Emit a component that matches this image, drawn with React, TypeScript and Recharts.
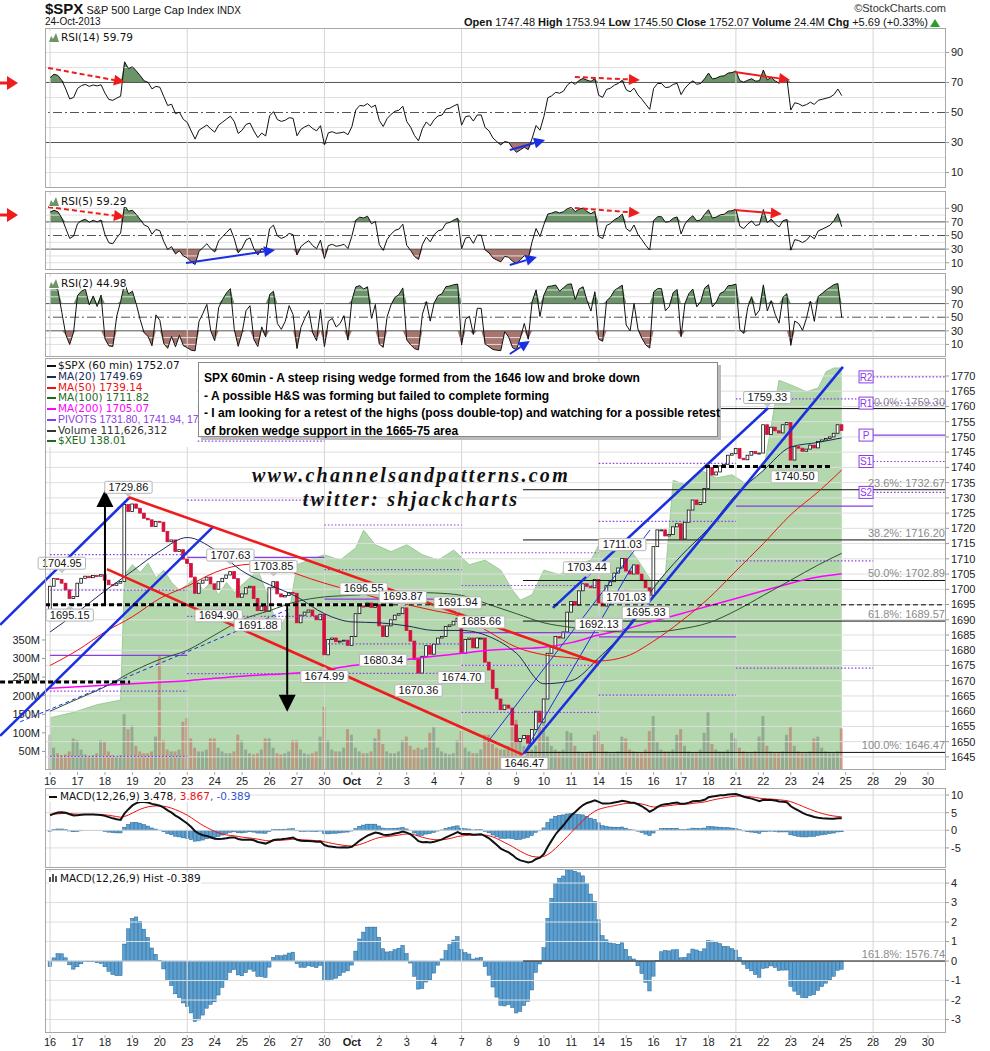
import React from "react";
import { ComposedChart, Line, Bar, Area, XAxis, YAxis, ReferenceLine, ReferenceDot } from "recharts";

const FONT = "Arial, 'Liberation Sans', sans-serif";
const VERD = "'DejaVu Sans', Verdana, sans-serif";
const NARROW = "'Liberation Sans Narrow', 'Arial Narrow', Arial, sans-serif";
const W = 990;

// ---- x axis (hourly bars, 7 per session) ----
const dayLabels = ["16", "17", "18", "19", "20", "23", "24", "25", "26", "27", "30", "Oct", "2", "3", "4", "7", "8", "9", "10", "11", "14", "15", "16", "17", "18", "21", "22", "23", "24", "25", "28", "29", "30"];
const BARS = 7;
const X_MIN = -1.3;
const X_MAX = 228.6;
const weekStarts = [0, 35, 70, 105, 140, 175, 210];

// ---- $SPX 60 min closes, one row per session ----
const open0 = 1692.0;
const closesByDay = [
  [1701.0, 1703.5, 1703.2, 1702.0, 1699.8, 1697.0, 1697.6],
  [1702.0, 1703.6, 1704.3, 1703.8, 1704.5, 1704.3, 1704.8],
  [1703.0, 1701.5, 1701.3, 1702.0, 1702.6, 1727.8, 1725.5],
  [1728.0, 1726.6, 1725.0, 1723.3, 1722.8, 1720.6, 1722.3],
  [1722.0, 1719.0, 1715.6, 1716.2, 1712.4, 1713.0, 1709.9],
  [1708.5, 1704.0, 1698.7, 1702.0, 1703.0, 1704.0, 1701.8],
  [1700.0, 1702.5, 1703.6, 1704.7, 1705.8, 1703.5, 1697.4],
  [1698.5, 1700.5, 1701.0, 1697.0, 1693.0, 1694.5, 1692.8],
  [1700.5, 1702.5, 1698.5, 1697.5, 1698.0, 1699.0, 1698.7],
  [1689.0, 1691.5, 1692.5, 1693.2, 1691.3, 1690.0, 1691.8],
  [1678.5, 1683.5, 1684.0, 1682.8, 1683.0, 1683.3, 1681.6],
  [1684.5, 1692.0, 1694.5, 1694.3, 1695.5, 1694.0, 1695.0],
  [1688.0, 1684.5, 1688.0, 1690.0, 1691.5, 1692.0, 1693.9],
  [1686.5, 1683.0, 1677.0, 1672.5, 1678.0, 1681.5, 1678.7],
  [1682.0, 1684.0, 1684.5, 1687.8, 1688.3, 1689.5, 1690.5],
  [1679.0, 1683.5, 1684.0, 1680.8, 1684.0, 1684.0, 1676.1],
  [1673.5, 1667.5, 1664.0, 1660.5, 1662.0, 1661.0, 1655.5],
  [1650.0, 1651.0, 1652.0, 1649.5, 1654.0, 1660.0, 1656.4],
  [1664.0, 1679.0, 1681.0, 1684.5, 1684.0, 1686.0, 1692.5],
  [1696.0, 1694.8, 1699.5, 1701.8, 1701.0, 1700.5, 1703.2],
  [1695.5, 1694.5, 1701.2, 1702.5, 1705.3, 1707.0, 1710.1],
  [1706.0, 1705.0, 1708.0, 1705.0, 1703.0, 1700.5, 1698.0],
  [1714.0, 1719.5, 1719.5, 1717.5, 1718.0, 1720.5, 1721.5],
  [1716.5, 1722.0, 1726.0, 1729.3, 1727.8, 1728.5, 1733.1],
  [1740.0, 1737.5, 1738.5, 1740.5, 1741.0, 1744.0, 1744.5],
  [1746.2, 1743.0, 1742.5, 1744.0, 1745.2, 1744.5, 1744.7],
  [1754.0, 1750.8, 1753.2, 1752.0, 1751.3, 1754.0, 1754.7],
  [1742.4, 1746.8, 1746.3, 1745.3, 1746.0, 1747.3, 1746.4],
  [1748.5, 1749.0, 1749.5, 1750.0, 1751.2, 1754.0, 1752.1],
];

// volume, millions of shares per bar
const volumeByDay = [
  [95, 60, 45, 40, 42, 50, 85],
  [80, 55, 42, 38, 40, 45, 80],
  [75, 50, 40, 35, 40, 150, 110],
  [120, 65, 50, 45, 45, 50, 90],
  [310, 80, 55, 50, 50, 55, 130],
  [140, 85, 60, 50, 50, 55, 85],
  [85, 60, 50, 45, 45, 50, 95],
  [80, 55, 45, 42, 45, 55, 85],
  [85, 60, 45, 42, 45, 50, 80],
  [80, 55, 45, 42, 45, 50, 90],
  [170, 80, 55, 50, 50, 60, 110],
  [95, 60, 50, 45, 45, 50, 85],
  [110, 70, 50, 45, 45, 50, 80],
  [90, 65, 55, 60, 55, 60, 100],
  [115, 60, 50, 45, 42, 45, 80],
  [105, 60, 50, 45, 45, 55, 95],
  [95, 70, 60, 55, 55, 65, 125],
  [135, 80, 65, 60, 55, 65, 120],
  [165, 90, 65, 55, 50, 55, 105],
  [100, 65, 50, 45, 45, 50, 95],
  [105, 70, 50, 45, 45, 50, 90],
  [85, 55, 50, 45, 45, 55, 105],
  [145, 75, 55, 50, 50, 55, 95],
  [110, 65, 50, 45, 45, 55, 100],
  [155, 70, 55, 50, 50, 55, 100],
  [85, 60, 50, 45, 45, 50, 90],
  [145, 65, 50, 45, 45, 50, 95],
  [115, 65, 50, 45, 45, 50, 85],
  [90, 60, 50, 45, 45, 50, 112],
];

// moving averages read at each session start (last value = latest)
const ma20Daily = [1686, 1692.5, 1699.5, 1706, 1712.5, 1717, 1713, 1706, 1701.5, 1697.5, 1692, 1689.3, 1689, 1688, 1686.5, 1686.5, 1684.5, 1679, 1669, 1670, 1677.5, 1687, 1700.5, 1711, 1720, 1731, 1739, 1746.7, 1748.2, 1749.69];
const ma50Daily = [1675, 1680, 1686, 1691, 1697, 1701, 1705.5, 1708, 1708.5, 1705, 1702, 1699.5, 1697, 1695, 1693, 1691, 1686, 1681, 1678.5, 1677.5, 1676.5, 1678, 1683, 1689.5, 1697, 1706, 1715, 1724.5, 1732, 1739.14];
const ma100Daily = [1660, 1664, 1668, 1673, 1677, 1680, 1685, 1690, 1693, 1696, 1697.5, 1698, 1698.5, 1699, 1698.8, 1698, 1695, 1692, 1689, 1687.5, 1686.5, 1686, 1686, 1687, 1689, 1693, 1698, 1703, 1708, 1711.82];
const ma200Daily = [1667.5, 1668, 1668.5, 1669, 1669.5, 1670, 1670.8, 1671.5, 1672, 1672.5, 1673.5, 1675, 1676, 1677, 1678, 1679, 1680, 1680.5, 1681, 1682.5, 1685, 1687, 1689.5, 1692, 1694.5, 1697, 1699.5, 1702, 1704, 1705.07];

// $XEU overlay (bar index, value)
const xeuIdx = [0, 6, 12, 18, 19, 21, 23, 25, 27, 29, 31, 33, 35, 37, 39, 41, 43, 45, 47, 49, 51, 53, 55, 57, 59, 61, 63, 66, 70, 74, 78, 80, 83, 87, 91, 95, 99, 103, 107, 111, 115, 118, 120, 123, 126, 130, 134, 138, 140, 143, 147, 150, 154, 157, 159, 162, 166, 170, 174, 178, 182, 186, 189, 193, 196, 198, 200, 202];
const xeuVal = [133.46, 133.53, 133.63, 133.69, 135.32, 135.45, 135.35, 135.47, 135.28, 135.38, 135.22, 135.12, 135.19, 135.28, 135.12, 135.22, 135.06, 135.22, 135.09, 135.19, 135.28, 135.38, 135.12, 134.8, 134.67, 134.83, 135.45, 135.51, 135.58, 135.51, 135.67, 135.9, 135.71, 135.62, 135.71, 135.58, 135.51, 135.64, 135.45, 135.51, 135.38, 135.12, 134.99, 135.06, 135.38, 135.32, 135.45, 135.51, 135.71, 135.77, 135.71, 135.51, 135.19, 135.32, 136.55, 136.49, 136.68, 136.58, 136.62, 136.49, 136.66, 137.85, 137.79, 137.7, 137.75, 137.96, 138.01, 138.01];

// weekly pivots
const pivotWeekStart = [0, 35, 70, 105, 140, 175];
const pivotWeekEnd = [35, 70, 105, 140, 175, 210];
const pivotP = [1678.3, 1710.49, 1696.77, 1685.8, 1684.37, 1727.31];
const pivotR1 = [1699.7, 1729.28, 1706.43, 1701.24, 1722.27, 1762.49];
const pivotS1 = [1666.6, 1691.12, 1682.1, 1675.05, 1665.3, 1709.31];
const pivotR2 = [1711.4, 1748.65, 1721.1, 1711.99, 1741.34, 1780.49];
const pivotS2 = [1645.2, 1672.33, 1672.44, 1659.61, 1627.4, 1674.13];
const nextPivotNames = ["R2", "R1", "P", "S1", "S2"];
const nextPivotVals = [1769.7, 1761.1, 1750.6, 1741.94, 1731.8];

// fibonacci retracement 1646.47 -> 1759.30
const fibNames = ["0.0%: 1759.30", "23.6%: 1732.67", "38.2%: 1716.20", "50.0%: 1702.89", "61.8%: 1689.57", "100.0%: 1646.47"];
const fibVals = [1759.3, 1732.67, 1716.2, 1702.89, 1689.57, 1646.47];
const FIB_START = 120.66;

// price call-outs: bar, price, below
const tagBars = [20, 3, 5, 46, 43, 53, 57, 80, 90, 104, 110, 85, 70, 94, 105, 121, 140, 137, 146, 147, 152, 183, 190];
const tagPrices = [1729.86, 1704.95, 1695.15, 1707.63, 1694.9, 1691.88, 1703.85, 1696.55, 1693.87, 1691.94, 1685.66, 1680.34, 1674.99, 1670.36, 1674.7, 1646.47, 1692.13, 1703.44, 1711.03, 1701.03, 1695.93, 1759.33, 1740.5];
const tagBelow = [false, false, true, false, true, true, false, false, false, false, false, true, true, true, true, true, true, false, false, true, true, false, true];

const priceTicks = [1645, 1650, 1655, 1660, 1665, 1670, 1675, 1680, 1685, 1690, 1695, 1700, 1705, 1710, 1715, 1720, 1725, 1730, 1735, 1740, 1745, 1750, 1755, 1760, 1765, 1770];
const volTicks = [50, 100, 150, 200, 250, 300, 350];
const rsiTicks = [90, 70, 50, 30, 10];
const rsiGrid = [10, 20, 30, 40, 50, 60, 70, 80, 90];
const macdTicks = [10, 5, 0, -5];
const histTicks = [4, 3, 2, 1, 0, -1, -2, -3];

const P_DOM = [1640.7, 1775.9];
const V_DOM = [0, 1109];
const XEU_DOM = [132.78, 138.14];

// ---- derived series ----
const closes = closesByDay.flat();
const volumes = volumeByDay.flat();
const LAST = closes.length - 1;

function rsi(period: number, g0: number, l0: number) {
  let g = g0, l = l0, prev = open0;
  return closes.map((c) => {
    const ch = c - prev;
    prev = c;
    g = (g * (period - 1) + Math.max(ch, 0)) / period;
    l = (l * (period - 1) + Math.max(-ch, 0)) / period;
    return 100 - 100 / (1 + g / l);
  });
}
function ema(vals: number[], n: number, seed: number) {
  const k = 2 / (n + 1);
  let e = seed;
  return vals.map((v) => (e = e + k * (v - e)));
}
const r14 = rsi(14, 0.95, 0.6);
const r5 = rsi(5, 1.0, 0.6);
const r2 = rsi(2, 1.0, 0.55);
const e12 = ema(closes, 12, 1692.0);
const e26 = ema(closes, 26, 1688.2);
const macd = e12.map((v, i) => v - e26[i]);
const signal = ema(macd, 9, 4.6);

const rows: any[] = closes.map((c, i) => ({
  i,
  open: i === 0 ? open0 : closes[i - 1],
  close: c,
  vol: volumes[i],
  rsi14: r14[i],
  rsi5: r5[i],
  rsi2: r2[i],
  macd: macd[i],
  signal: signal[i],
  hist: macd[i] - signal[i],
}));
ma20Daily.forEach((_, k) => {
  const ix = k < closesByDay.length ? k * BARS : LAST;
  rows[ix].ma20 = ma20Daily[k];
  rows[ix].ma50 = ma50Daily[k];
  rows[ix].ma100 = ma100Daily[k];
  rows[ix].ma200 = ma200Daily[k];
});
xeuIdx.forEach((ix, k) => (rows[ix].xeu = xeuVal[k]));

// ---- annotation lines (bar index, value) ----
const BLUE = "#1a2fe0";
const RED = "#ee1c1c";
const CANDLE_RED = "#d4103c";
const PURPLE = "#8a3be6";

const priceLines = [
  { a: [-12.76, 1688.3], b: [20.41, 1730.3], c: BLUE, w: 2.6 },
  { a: [-12.76, 1651.9], b: [41.58, 1720.5], c: BLUE, w: 2.6 },
  { a: [-7.65, 1656.5], b: [61.2, 1693.6], c: BLUE, w: 1, d: "4 3" },
  { a: [120.66, 1645.7], b: [202.3, 1773.0], c: BLUE, w: 2.6 },
  { a: [128.3, 1693.9], b: [183.2, 1759.5], c: BLUE, w: 2.6 },
  { a: [111.7, 1649.9], b: [153.1, 1719.5], c: BLUE, w: 1 },
  { a: [120.66, 1645.7], b: [148.7, 1708.0], c: BLUE, w: 1 },
  { a: [19.9, 1730.3], b: [139.8, 1675.8], c: RED, w: 2.6 },
  { a: [14.5, 1706.6], b: [120.66, 1645.7], c: RED, w: 2.6 },
  { a: [-1.3, 1694.9], b: [87.5, 1694.9], c: "#000", w: 3, d: "5 3" },
  { a: [87.5, 1694.9], b: [X_MAX, 1694.9], c: "#000", w: 1, d: "5 3" },
  { a: [-12.76, 1669.6], b: [20.4, 1669.6], c: "#000", w: 3, d: "5 3" },
  { a: [167.1, 1740.3], b: [199.7, 1740.3], c: "#000", w: 3, d: "5 3" },
];
const priceArrows = [
  { a: [14.0, 1694.9], b: [14.0, 1732.6] },
  { a: [60.5, 1694.9], b: [60.5, 1659.8] },
];
const rsi14Arrows = [
  { a: [-0.5, 79.7], b: [19.1, 70.3], c: RED, d: "5 3" },
  { a: [133.9, 73.7], b: [150.5, 71.7], c: RED, d: "5 3" },
  { a: [174.7, 77.0], b: [188.8, 71.7], c: RED },
  { a: [117.3, 25.0], b: [126.3, 31.7], c: BLUE },
];
const rsi5Arrows = [
  { a: [-0.5, 91.9], b: [19.1, 77.2], c: RED, d: "5 3" },
  { a: [133.9, 90.4], b: [150.5, 83.1], c: RED, d: "5 3" },
  { a: [174.7, 87.5], b: [186.7, 81.6], c: RED },
  { a: [34.7, 9.6], b: [57.4, 28.7], c: BLUE },
  { a: [117.3, 6.6], b: [124.2, 18.4], c: BLUE },
];
const rsi2Arrows = [{ a: [117.3, -4.1], b: [122.4, 15.0], c: BLUE }];

// ---- shapes ----
const arrowShape = (color: string, width: number, dash?: string, head = 11) => (p: any) => {
  const { x1, y1, x2, y2 } = p;
  const ang = Math.atan2(y2 - y1, x2 - x1);
  const hx = x2 - head * Math.cos(ang);
  const hy = y2 - head * Math.sin(ang);
  const px = -Math.sin(ang) * head * 0.5;
  const py = Math.cos(ang) * head * 0.5;
  return (
    <g>
      <line x1={x1} y1={y1} x2={hx} y2={hy} stroke={color} strokeWidth={width} strokeDasharray={dash} />
      <polygon points={`${x2},${y2} ${hx + px},${hy + py} ${hx - px},${hy - py}`} fill={color} />
    </g>
  );
};

const Candle = (p: any) => {
  const { x, y, width, height, payload } = p;
  if (x == null || y == null) return null;
  const up = payload.close >= payload.open;
  const top = height < 0 ? y + height : y;
  const h = Math.max(Math.abs(height), 1);
  return <rect x={x + 0.3} y={top} width={Math.max(width - 0.6, 2)} height={h} fill={up ? "#fff" : CANDLE_RED} stroke={up ? "#111" : CANDLE_RED} strokeWidth={0.8} />;
};
const VolBar = (p: any) => {
  const { x, y, width, height, payload } = p;
  if (x == null || y == null) return null;
  const down = payload.close < payload.open;
  return <rect x={x} y={y} width={width} height={Math.max(height, 0)} fill={down ? "rgba(200,70,70,0.42)" : "rgba(105,105,105,0.42)"} />;
};
const HistBar = (p: any) => {
  const { x, y, width, height } = p;
  if (x == null || y == null) return null;
  const top = height < 0 ? y + height : y;
  return <rect x={x} y={top} width={width} height={Math.abs(height)} fill="#5aa0d2" stroke="#1e5f90" strokeWidth={0.5} />;
};

const tagShape = (text: string, below: boolean) => (p: any) => {
  const { cx, cy } = p;
  const w = text.length * 5.9 + 6;
  const h = 12;
  const by = below ? cy + 5 : cy - 5 - h;
  const tri = below ? `${cx - 4},${cy + 5} ${cx},${cy + 1} ${cx + 4},${cy + 5}` : `${cx - 4},${cy - 5} ${cx},${cy - 1} ${cx + 4},${cy - 5}`;
  return (
    <g>
      <polygon points={tri} fill="#c8c8c8" />
      <rect x={cx - w / 2} y={by} width={w} height={h} fill="#fff" stroke="#b4b4b4" rx={1.5} />
      <text x={cx} y={by + 9.5} textAnchor="middle" fontSize={11} fontFamily={FONT} fill="#111">{text}</text>
    </g>
  );
};
const fibLabel = (text: string) => (p: any) => (
  <text x={p.cx - 1} y={p.cy - 3} textAnchor="end" fontSize={11} fontFamily={FONT} fill="#8a8a8a">{text}</text>
);
const pivotBox = (text: string) => (p: any) => (
  <g>
    <rect x={p.cx - 7} y={p.cy - 6} width={14} height={12} fill="#fff" stroke={PURPLE} />
    <text x={p.cx} y={p.cy + 4} textAnchor="middle" fontSize={10} fontFamily={FONT} fill={PURPLE}>{text}</text>
  </g>
);

const dayTick = (dy: number) => (p: any) => {
  const lab = dayLabels[Math.round(p.payload.value / BARS)];
  return (
    <g>
      <line x1={p.x} x2={p.x} y1={p.y} y2={p.y + 3} stroke="#aaa" />
      <text x={p.x} y={p.y + dy} textAnchor="middle" fontSize={11} fontFamily={NARROW} fontWeight={lab === "Oct" ? "bold" : "normal"} fill="#222">{lab}</text>
    </g>
  );
};

const xBase: any = {
  type: "number",
  dataKey: "i",
  domain: [X_MIN, X_MAX],
  allowDataOverflow: true,
  ticks: dayLabels.map((_, d) => d * BARS),
  interval: 0,
};
const axisTick = { fontSize: 11, fill: "#222", fontFamily: FONT };

const weekLines = (yId: string) =>
  weekStarts.map((w) => <ReferenceLine key={"wk" + w} yAxisId={yId} x={w} stroke="#d6d6d6" />);

function RsiPanel({ top, height, domain, dataKey, arrows }: any) {
  return (
    <div style={{ position: "absolute", left: 0, top }}>
      <ComposedChart width={W} height={height} data={rows} margin={{ top: 0, right: 0, bottom: 0, left: 45 }}>
        <XAxis {...xBase} hide />
        <YAxis yAxisId="r" orientation="right" width={44} domain={domain} ticks={rsiTicks} interval={0} allowDataOverflow tick={axisTick} tickSize={3} tickLine={{ stroke: "#999" }} axisLine={false} />
        {rsiGrid.map((v) => (
          <ReferenceLine key={v} yAxisId="r" y={v} stroke={v === 70 || v === 30 || v === 50 ? "#555" : "#e0e0e0"} strokeDasharray={v === 50 ? "9 3 2 3" : undefined} />
        ))}
        {weekLines("r")}
        <Area yAxisId="r" dataKey={(d: any) => Math.max(d[dataKey], 70)} baseValue={70} fill="#6b9468" fillOpacity={1} stroke="none" isAnimationActive={false} dot={false} activeDot={false} />
        <Area yAxisId="r" dataKey={(d: any) => Math.min(d[dataKey], 30)} baseValue={30} fill="#a9756f" fillOpacity={1} stroke="none" isAnimationActive={false} dot={false} activeDot={false} />
        <Line yAxisId="r" dataKey={dataKey} stroke="#111" strokeWidth={1} dot={false} activeDot={false} isAnimationActive={false} />
        {arrows.map((a: any, k: number) => (
          <ReferenceLine key={"ar" + k} yAxisId="r" ifOverflow="visible" segment={[{ x: a.a[0], y: a.a[1] }, { x: a.b[0], y: a.b[1] }]} shape={arrowShape(a.c, 2, a.d, 11)} />
        ))}
      </ComposedChart>
    </div>
  );
}

const icon = (color: string) => (
  <svg width={10} height={9} style={{ marginRight: 2, verticalAlign: "-1px" }}>
    <polygon points="0,9 2,3 4,6 7,0 10,9" fill={color} />
  </svg>
);
const box = (top: number, h: number) => (
  <div style={{ position: "absolute", left: 45, top, width: 901, height: h, border: "1px solid #a8a8a8", boxSizing: "border-box", pointerEvents: "none" }} />
);
const panelLabel: any = { position: "absolute", left: 49, fontSize: 10.5, fontFamily: VERD, background: "#fff", whiteSpace: "nowrap", lineHeight: "12px", color: "#111" };

export default function App() {
  const legend = [
    { t: "$SPX (60 min) 1752.07", c: "#111" },
    { t: "MA(20) 1749.69", c: "#1c2b5a" },
    { t: "MA(50) 1739.14", c: "#ee1111" },
    { t: "MA(100) 1711.82", c: "#1f6b1f" },
    { t: "MA(200) 1705.07", c: "#ff00ff" },
    { t: "PIVOTS 1731.80, 1741.94, 1750", c: PURPLE, narrow: true },
    { t: "Volume 111,626,312", c: "#333" },
    { t: "$XEU  138.01", c: "#1d6b1d" },
  ];
  return (
    <div style={{ position: "relative", width: W, height: 1051, background: "#fff", fontFamily: FONT, overflow: "hidden" }}>
      <style>{`body{margin:0}`}</style>

      {/* header */}
      <div style={{ position: "absolute", left: 45, top: 1, height: 15, fontSize: 11, lineHeight: "15px", color: "#111", whiteSpace: "nowrap" }}>
        <b style={{ fontSize: 15 }}>$SPX</b> S&amp;P 500 Large Cap Index <span style={{ fontSize: 10 }}>INDX</span>
      </div>
      <div style={{ position: "absolute", left: 45, top: 17, height: 10, fontSize: 10, lineHeight: "10px", color: "#111" }}>24-Oct-2013</div>
      <div style={{ position: "absolute", right: 44, top: 2, fontSize: 11, lineHeight: "12px", color: "#333" }}>©StockCharts.com</div>
      <div style={{ position: "absolute", right: 62, top: 16, fontSize: 11, lineHeight: "12px", color: "#111", whiteSpace: "nowrap" }}>
        <b>Open</b> 1747.48 <b>High</b> 1753.94 <b>Low</b> 1745.50 <b>Close</b> 1752.07 <b>Volume</b> 24.4M <b>Chg</b> +5.69 (+0.33%)
      </div>
      <svg style={{ position: "absolute", left: 930, top: 18 }} width={10} height={10}>
        <polygon points="5,1 10,9 0,9" fill="#2a9d2a" />
      </svg>

      {/* RSI panels */}
      <RsiPanel top={28} height={160} domain={[-0.3, 106.3]} dataKey="rsi14" arrows={rsi14Arrows} />
      <RsiPanel top={191} height={79} domain={[-0.7, 115.4]} dataKey="rsi5" arrows={rsi5Arrows} />
      <RsiPanel top={273} height={84} domain={[-8.5, 115]} dataKey="rsi2" arrows={rsi2Arrows} />
      {box(28, 160)}
      {box(191, 79)}
      {box(273, 84)}
      <div style={{ ...panelLabel, top: 31 }}>{icon("#6b9468")}RSI(14) 59.79</div>
      <div style={{ ...panelLabel, top: 195 }}>{icon("#6b9468")}RSI(5) 59.29</div>
      <div style={{ ...panelLabel, top: 277 }}>{icon("#6b9468")}RSI(2) 44.98</div>

      {/* price panel: background layer */}
      <div style={{ position: "absolute", left: 0, top: 358 }}>
        <ComposedChart width={W} height={430} data={rows} margin={{ top: 0, right: 0, bottom: 0, left: 0 }}>
          <XAxis {...xBase} height={18} tick={dayTick(13)} tickLine={false} axisLine={false} tickSize={0} />
          <YAxis yAxisId="vol" orientation="left" width={45} domain={V_DOM} ticks={volTicks} interval={0} allowDataOverflow tickFormatter={(v: number) => `${v}M`} tick={axisTick} tickSize={3} tickLine={{ stroke: "#999" }} axisLine={false} />
          <YAxis yAxisId="p" orientation="right" width={44} domain={P_DOM} ticks={priceTicks} interval={0} allowDataOverflow tick={axisTick} tickSize={3} tickLine={{ stroke: "#999" }} axisLine={false} />
          <YAxis yAxisId="xeu" hide domain={XEU_DOM} allowDataOverflow />
          {priceTicks.map((v) => (
            <ReferenceLine key={v} yAxisId="p" y={v} stroke="#dedede" />
          ))}
          {weekLines("p")}
          <Area yAxisId="xeu" dataKey="xeu" connectNulls baseValue={XEU_DOM[0]} fill="#b4d8ae" fillOpacity={1} stroke="#9ccb96" strokeWidth={1} isAnimationActive={false} dot={false} activeDot={false} />
          <Bar yAxisId="vol" dataKey="vol" barSize={3} shape={VolBar} isAnimationActive={false} />
        </ComposedChart>
      </div>

      {/* price panel: overlays */}
      <div style={{ position: "absolute", left: 0, top: 358 }}>
        <ComposedChart width={W} height={430} data={rows} margin={{ top: 0, right: 44, bottom: 18, left: 45 }}>
          <XAxis {...xBase} hide />
          <YAxis yAxisId="p" hide domain={P_DOM} allowDataOverflow />
          {pivotWeekStart.map((s, w) =>
            [pivotR2, pivotR1, pivotP, pivotS1, pivotS2].map((lv, k) => (
              <ReferenceLine key={`pv${w}-${k}`} yAxisId="p" ifOverflow="hidden" segment={[{ x: s, y: lv[w] }, { x: pivotWeekEnd[w], y: lv[w] }]} stroke={PURPLE} strokeWidth={1.2} strokeDasharray={k === 2 ? undefined : "1.5 2"} />
            ))
          )}
          {nextPivotVals.map((v, k) => (
            <ReferenceLine key={"np" + k} yAxisId="p" segment={[{ x: 210, y: v }, { x: X_MAX, y: v }]} stroke={PURPLE} strokeWidth={1.2} strokeDasharray={k === 2 ? undefined : "1.5 2"} />
          ))}
          {fibVals.map((v, k) => (
            <ReferenceLine key={"fb" + k} yAxisId="p" segment={[{ x: FIB_START, y: v }, { x: X_MAX, y: v }]} stroke="#111" strokeWidth={1} />
          ))}
          <Line yAxisId="p" dataKey="ma200" connectNulls type="monotone" stroke="#ff00ff" strokeWidth={1.5} dot={false} activeDot={false} isAnimationActive={false} />
          <Line yAxisId="p" dataKey="ma100" connectNulls type="monotone" stroke="#2d522d" strokeWidth={1} dot={false} activeDot={false} isAnimationActive={false} />
          <Line yAxisId="p" dataKey="ma50" connectNulls type="monotone" stroke="#ee1111" strokeWidth={1} dot={false} activeDot={false} isAnimationActive={false} />
          <Line yAxisId="p" dataKey="ma20" connectNulls type="monotone" stroke="#1c2b5a" strokeWidth={1} dot={false} activeDot={false} isAnimationActive={false} />
          <Bar yAxisId="p" dataKey={(d: any) => [Math.min(d.open, d.close), Math.max(d.open, d.close)]} barSize={3.4} shape={Candle} isAnimationActive={false} />
          {priceLines.map((l, k) => (
            <ReferenceLine key={"tl" + k} yAxisId="p" ifOverflow="visible" segment={[{ x: l.a[0], y: l.a[1] }, { x: l.b[0], y: l.b[1] }]} stroke={l.c} strokeWidth={l.w} strokeDasharray={l.d} />
          ))}
          {priceArrows.map((a, k) => (
            <ReferenceLine key={"pa" + k} yAxisId="p" ifOverflow="visible" segment={[{ x: a.a[0], y: a.a[1] }, { x: a.b[0], y: a.b[1] }]} shape={arrowShape("#000", 2, undefined, 17)} />
          ))}
          {tagBars.map((b, k) => (
            <ReferenceDot key={"tg" + k} yAxisId="p" x={b} y={tagPrices[k]} r={0} ifOverflow="visible" shape={tagShape(tagPrices[k].toFixed(2), tagBelow[k])} />
          ))}
          {fibVals.map((v, k) => (
            <ReferenceDot key={"fl" + k} yAxisId="p" x={X_MAX} y={v} r={0} ifOverflow="visible" shape={fibLabel(fibNames[k])} />
          ))}
          {nextPivotVals.map((v, k) => (
            <ReferenceDot key={"pb" + k} yAxisId="p" x={208.2} y={v} r={0} ifOverflow="visible" shape={pivotBox(nextPivotNames[k])} />
          ))}
        </ComposedChart>
      </div>
      {box(358, 412)}

      {/* price legend */}
      <div style={{ position: "absolute", left: 47, top: 360, width: 150, fontSize: 10.5, fontFamily: VERD, lineHeight: "10.75px", background: "#fff", paddingBottom: 1 }}>
        {legend.map((l, k) => (
          <div key={k} style={{ color: l.c, whiteSpace: "nowrap", fontFamily: l.narrow ? NARROW : VERD, fontSize: l.narrow ? 10.5 : 10.5 }}>
            <span style={{ display: "inline-block", width: 9, height: 2, background: l.c, verticalAlign: "middle", marginRight: 2 }} />
            {l.t}
          </div>
        ))}
      </div>

      {/* comment box */}
      <div style={{ position: "absolute", left: 198, top: 362, width: 520, height: 75, background: "#fff", border: "1px solid #888", boxShadow: "3px 3px 0 #bbb", boxSizing: "border-box", padding: "7px 0 0 5px", fontSize: 12, fontWeight: "bold", lineHeight: "17.5px", color: "#000", whiteSpace: "nowrap" }}>
        <div>SPX 60min - A steep rising wedge formed from the 1646 low and broke down</div>
        <div>- A possible H&amp;S was forming but failed to complete forming</div>
        <div>- I am looking for a retest of the highs (poss double-top) and watching for a possible retest</div>
        <div>of broken wedge support in the 1665-75 area</div>
      </div>

      {/* watermark */}
      {["www.channelsandpatterns.com", "twitter: shjackcharts"].map((t, k) => (
        <div key={t} style={{ position: "absolute", left: 161, top: 464 + k * 24, width: 500, height: 23, textAlign: "center", fontFamily: "'Liberation Serif', 'DejaVu Serif', serif", fontStyle: "italic", fontWeight: "bold", fontSize: 20, letterSpacing: 2.3, lineHeight: "23px", color: "#111", whiteSpace: "nowrap" }}>
          {t}
        </div>
      ))}

      {/* MACD */}
      <div style={{ position: "absolute", left: 0, top: 788 }}>
        <ComposedChart width={W} height={80} data={rows} margin={{ top: 0, right: 0, bottom: 0, left: 45 }}>
          <XAxis {...xBase} hide />
          <YAxis yAxisId="m" orientation="right" width={44} domain={[-10.7, 12]} ticks={macdTicks} interval={0} allowDataOverflow tick={axisTick} tickSize={3} tickLine={{ stroke: "#999" }} axisLine={false} />
          {macdTicks.map((v) => (
            <ReferenceLine key={v} yAxisId="m" y={v} stroke="#dedede" />
          ))}
          {weekLines("m")}
          <Bar yAxisId="m" dataKey="hist" barSize={3.4} shape={HistBar} isAnimationActive={false} />
          <Line yAxisId="m" dataKey="signal" stroke="#ee1111" strokeWidth={1} dot={false} activeDot={false} isAnimationActive={false} />
          <Line yAxisId="m" dataKey="macd" stroke="#111" strokeWidth={2} dot={false} activeDot={false} isAnimationActive={false} />
        </ComposedChart>
      </div>
      {box(788, 80)}
      <div style={{ ...panelLabel, top: 790 }}>
        <span style={{ display: "inline-block", width: 8, height: 2, background: "#111", verticalAlign: "middle", marginRight: 3 }} />
        MACD(12,26,9) 3.478<span style={{ color: "#ee1111" }}>, 3.867</span><span style={{ color: "#3355cc" }}>, -0.389</span>
      </div>

      {/* MACD histogram */}
      <div style={{ position: "absolute", left: 0, top: 869 }}>
        <ComposedChart width={W} height={182} data={rows} margin={{ top: 0, right: 0, bottom: 0, left: 45 }}>
          <XAxis {...xBase} height={18} tick={dayTick(11)} tickLine={false} axisLine={false} tickSize={0} />
          <YAxis yAxisId="h" orientation="right" width={44} domain={[-3.69, 4.72]} ticks={histTicks} interval={0} allowDataOverflow tick={axisTick} tickSize={3} tickLine={{ stroke: "#999" }} axisLine={false} />
          {histTicks.map((v) => (
            <ReferenceLine key={v} yAxisId="h" y={v} stroke="#dedede" />
          ))}
          {weekLines("h")}
          <Bar yAxisId="h" dataKey="hist" barSize={3.4} shape={HistBar} isAnimationActive={false} />
          <ReferenceLine yAxisId="h" segment={[{ x: FIB_START, y: 0 }, { x: X_MAX, y: 0 }]} stroke="#111" />
          <ReferenceDot yAxisId="h" x={X_MAX} y={0} r={0} ifOverflow="visible" shape={fibLabel("161.8%: 1576.74")} />
        </ComposedChart>
      </div>
      {box(869, 164)}
      <div style={{ ...panelLabel, top: 872 }}>
        <svg width={9} height={9} style={{ marginRight: 2 }}>
          <rect x={0} y={4} width={2} height={5} fill="#555" />
          <rect x={3} y={1} width={2} height={8} fill="#555" />
          <rect x={6} y={3} width={2} height={6} fill="#555" />
        </svg>
        MACD(12,26,9) Hist -0.389
      </div>

      {/* off-chart red arrows */}
      <svg style={{ position: "absolute", left: 0, top: 0, pointerEvents: "none" }} width={45} height={300}>
        <line x1={0} y1={83} x2={8} y2={83} stroke={RED} strokeWidth={3} />
        <polygon points="7,76 18,83 7,90" fill={RED} />
        <line x1={0} y1={215} x2={8} y2={215} stroke={RED} strokeWidth={3} />
        <polygon points="7,208 18,215 7,222" fill={RED} />
      </svg>
    </div>
  );
}
